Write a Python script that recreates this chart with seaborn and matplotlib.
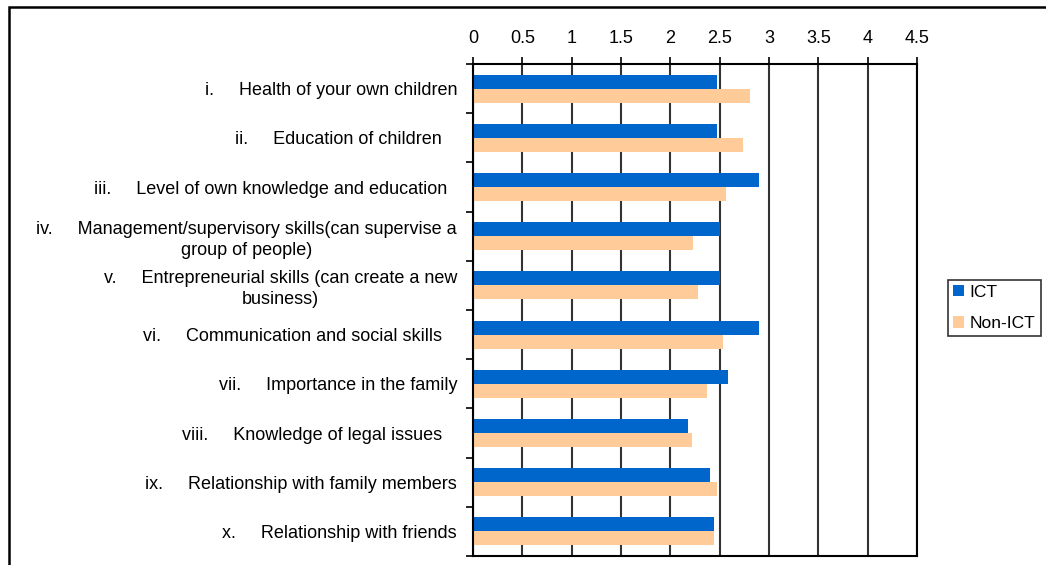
import matplotlib
matplotlib.use("Agg")
import matplotlib.pyplot as plt
import seaborn as sns
import pandas as pd
from matplotlib.patches import Rectangle

# Survey items (mean scores on a 0-4.5 scale)
categories = [
    "i.     Health of your own children",
    "ii.     Education of children   ",
    "iii.     Level of own knowledge and education  ",
    "iv.     Management/supervisory skills(can supervise a\ngroup of people)",
    "v.     Entrepreneurial skills (can create a new\nbusiness)",
    "vi.     Communication and social skills   ",
    "vii.     Importance in the family",
    "viii.     Knowledge of legal issues   ",
    "ix.     Relationship with family members",
    "x.     Relationship with friends",
]
ict = [2.47, 2.47, 2.90, 2.50, 2.50, 2.90, 2.58, 2.18, 2.40, 2.44]
non_ict = [2.81, 2.74, 2.56, 2.23, 2.28, 2.53, 2.37, 2.22, 2.47, 2.44]
groups = ["ICT", "Non-ICT"]
group_colors = ["#0066CC", "#FFCC99"]
x_ticks = [0, 0.5, 1, 1.5, 2, 2.5, 3, 3.5, 4, 4.5]
x_tick_labels = ["0", "0.5", "1", "1.5", "2", "2.5", "3", "3.5", "4", "4.5"]

sns.set_theme(style="white")
plt.rcParams["font.family"] = ["Liberation Sans", "DejaVu Sans"]
plt.rcParams["text.color"] = "black"
plt.rcParams["xtick.color"] = "black"
plt.rcParams["ytick.color"] = "black"

FS = 13

df = pd.DataFrame({
    "item": categories * 2,
    "score": ict + non_ict,
    "group": [groups[0]] * len(ict) + [groups[1]] * len(non_ict),
})

W, H = 1046, 565
fig = plt.figure(figsize=(W / 100, H / 100), dpi=100)
ax = fig.add_axes([473 / W, 1 - 556 / H, 444 / W, 492 / H])

sns.barplot(
    data=df, y="item", x="score", hue="group", hue_order=groups,
    order=categories, orient="h", palette=group_colors, saturation=1,
    width=0.57, linewidth=0, errorbar=None, ax=ax,
)

ax.set_xlim(0, 4.5)
ax.set_ylim(len(categories) - 0.5, -0.5)
ax.set_xlabel("")
ax.set_ylabel("")

# value axis on top
ax.xaxis.tick_top()
ax.set_xticks(x_ticks)
ax.set_xticklabels(x_tick_labels, fontsize=FS, color="black")
ax.tick_params(axis="x", which="major", direction="out", length=5, width=1.2,
               color="black", pad=7, top=True, bottom=False)

# category labels centred on bands, tick marks on band boundaries
ax.set_yticks(range(len(categories)))
ax.set_yticklabels(categories, fontsize=FS, ma="center", color="black",
                   linespacing=1.3)
ax.tick_params(axis="y", which="major", length=0, pad=11.5)
ax.set_yticks([i - 0.5 for i in range(len(categories) + 1)], minor=True)
ax.tick_params(axis="y", which="minor", direction="out", length=5, width=1.2,
               color="black", left=True)

ax.grid(axis="x", color="#333333", linewidth=1.5)
ax.grid(axis="y", visible=False)
ax.set_axisbelow(True)
for sp in ax.spines.values():
    sp.set_visible(True)
    sp.set_color("black")
    sp.set_linewidth(1.5)

handles, labels = ax.get_legend_handles_labels()
ax.get_legend().remove()
leg = fig.legend(
    handles, labels, loc="center left",
    bbox_to_anchor=(948 / W, 1 - 308 / H), bbox_transform=fig.transFigure,
    fontsize=12.5, frameon=True, fancybox=False, edgecolor="black",
    handlelength=0.65, handleheight=0.65, handletextpad=0.3,
    borderpad=0.3, labelspacing=0.95, borderaxespad=0,
)
leg.get_frame().set_linewidth(1.2)

# outer chart border
fig.add_artist(Rectangle((8.5 / W, -0.1), 1.2, 1.1 - 7.5 / H,
                         transform=fig.transFigure, fill=False,
                         edgecolor="black", linewidth=1.8))

fig.savefig("out.png", dpi=100, facecolor="white")
